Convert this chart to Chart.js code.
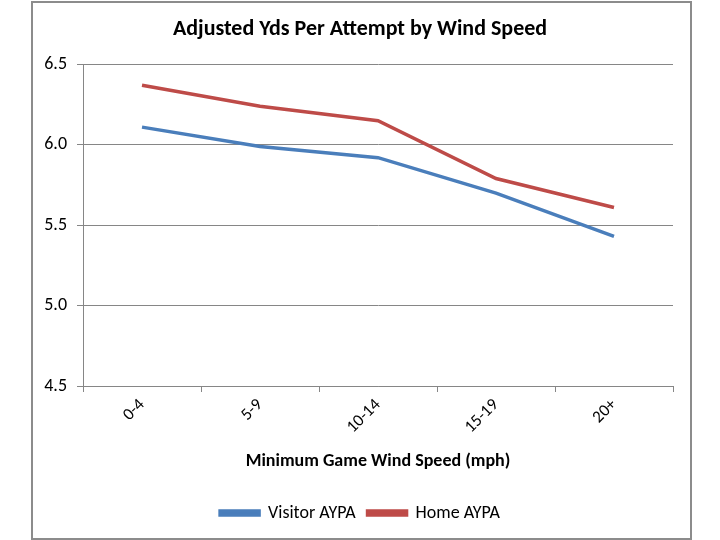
<!DOCTYPE html>
<html>
<head>
<meta charset="utf-8">
<script src="https://cdn.jsdelivr.net/npm/chart.js@4"></script>
<style>
  html, body { margin: 0; padding: 0; background: #fff; }
  #wrap { width: 720px; height: 540px; }
</style>
</head>
<body>
<div id="wrap"><canvas id="aypaChart" width="720" height="540"></canvas></div>
<script>
// Data
const windSpeeds = ["0-4", "5-9", "10-14", "15-19", "20+"];
const visitorAypa = [6.11, 5.99, 5.92, 5.70, 5.43];
const homeAypa = [6.37, 6.24, 6.15, 5.79, 5.61];

const FONT = "Carlito, 'Liberation Sans Narrow', 'Liberation Sans', Arial, sans-serif";
const GRID = "#868686";

// outer frame like the Excel chart border
const framePlugin = {
  id: "frame",
  beforeDraw(chart) {
    const ctx = chart.ctx;
    ctx.save();
    ctx.fillStyle = "#fff";
    ctx.fillRect(0, 0, chart.width, chart.height);
    ctx.strokeStyle = "#8c8c8c";
    ctx.lineWidth = 2;
    ctx.strokeRect(32, 2, 659, 537);
    ctx.restore();
  }
};

new Chart(document.getElementById("aypaChart"), {
  type: "line",
  data: {
    labels: windSpeeds,
    datasets: [
      { label: "Visitor AYPA", data: visitorAypa, borderColor: "#4a7ebb", backgroundColor: "#4a7ebb", borderWidth: 3.5, pointRadius: 0, tension: 0 },
      { label: "Home AYPA", data: homeAypa, borderColor: "#be4b48", backgroundColor: "#be4b48", borderWidth: 3.5, pointRadius: 0, tension: 0 }
    ]
  },
  options: {
    responsive: false,
    animation: false,
    layout: { padding: { left: 0, right: 0, top: 0, bottom: 8 } },
    plugins: {
      title: {
        display: true,
        text: "Adjusted Yds Per Attempt by Wind Speed",
        color: "#000",
        font: { family: FONT, size: 22, weight: "bold" },
        padding: { top: 16, bottom: 22 }
      },
      legend: {
        position: "bottom",
        labels: {
          color: "#000",
          font: { family: FONT, size: 18 },
          boxWidth: 39,
          boxHeight: 4,
          padding: 12
        }
      },
      tooltip: { enabled: false }
    },
    scales: {
      x: {
        offset: true,
        grid: { offset: true, drawOnChartArea: false, drawTicks: true, tickLength: 6, color: GRID },
        border: { color: GRID },
        ticks: { color: "#000", font: { family: FONT, size: 17 }, minRotation: 45, maxRotation: 45, padding: 3 },
        title: {
          display: true,
          text: "Minimum Game Wind Speed (mph)",
          color: "#000",
          font: { family: FONT, size: 18, weight: "bold" },
          padding: { top: 4, bottom: 20 }
        },
        afterFit(scale) { scale.height = 106; }
      },
      y: {
        min: 4.5,
        max: 6.5,
        grid: { color: GRID, tickLength: 6 },
        border: { color: GRID },
        ticks: {
          stepSize: 0.5,
          color: "#000",
          padding: 10,
          font: { family: FONT, size: 18 },
          callback: v => v.toFixed(1)
        },
        afterFit(scale) { scale.width = 83; }
      },
      yRight: {
        type: "linear",
        position: "right",
        grid: { display: false },
        border: { display: false },
        ticks: { display: false },
        afterFit(scale) { scale.width = 47; }
      }
    }
  },
  plugins: [framePlugin]
});
</script>
</body>
</html>
